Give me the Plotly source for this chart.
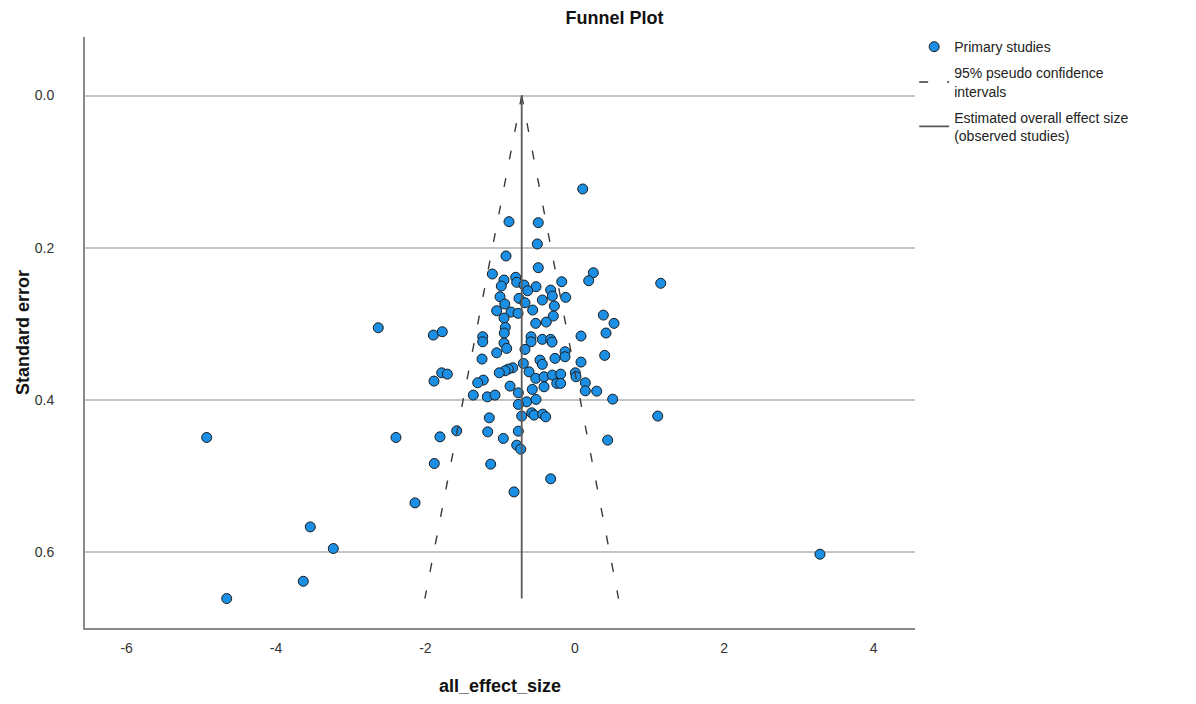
import plotly.graph_objects as go

# Primary studies: effect size and standard error
effect_size = [
    0.106, -0.881, -0.489, -0.502, -0.921, -0.489, 1.150,
    -1.104, 0.248, 0.186, -0.175, -0.948, -0.791, -0.778, -0.984, -0.680, -0.519,
    -0.631, -0.323, -0.301, -0.122, -1.001, -0.747,
    -0.435, -0.938, -0.667, -0.274, -1.046, -0.564, -0.854, -0.760, -0.948, -0.288,
    0.382, -0.523, -0.382, 0.525, -0.930, -2.631,
    -1.894, -1.774, -1.233, -1.233, -0.944, -0.948, -0.586, -0.586, -0.435, -0.323,
    -0.305, 0.083, 0.418, -0.912, -1.046, -0.667, -0.131, -0.131, -0.265, -1.242, 0.400,
    0.083, -0.466, -0.435, -0.689, -0.831, -0.890, -0.934, -1.011, -0.613, -1.782,
    -1.707, -1.885, -1.225, -1.300, -0.523, -0.412, -0.301, -0.189, 0.007, 0.016,
    -0.242, -0.189, 0.141, 0.141, -0.867, -0.569, -0.412, 0.293, -1.359, -1.171,
    -1.068, -0.756,
    0.507, -0.644, -0.519, -0.756, -0.711, -0.577, -0.546, -0.430, -0.390, -1.145,
    1.110, -2.394, -1.805, -1.581, -1.166, -0.957, -0.756, 0.440, -0.778, -0.724,
    -1.881, -1.126, -0.323, -0.814, -2.139, -4.928, -3.541, -3.233, -3.635, -4.660,
    3.282,
]
standard_error = [
    0.1228, 0.1658, 0.1671, 0.1951, 0.2109, 0.2263, 0.2468,
    0.2346, 0.2329, 0.2434, 0.2447, 0.2425, 0.2389, 0.2455, 0.2504, 0.2491, 0.2513,
    0.2566, 0.2557, 0.2636, 0.2653, 0.2645, 0.2666,
    0.2688, 0.2741, 0.2724, 0.2767, 0.2829, 0.2820, 0.2846, 0.2863, 0.2925, 0.2899,
    0.2886, 0.2995, 0.2978, 0.2995, 0.3047, 0.3053,
    0.3149, 0.3105, 0.3171, 0.3237, 0.3122, 0.3254, 0.3171, 0.3237, 0.3205, 0.3205,
    0.3241, 0.3162, 0.3122, 0.3324, 0.3382, 0.3337, 0.3368, 0.3434, 0.3455, 0.3464, 0.3416,
    0.3504, 0.3478, 0.3534, 0.3521, 0.3579, 0.3596, 0.3618, 0.3645, 0.3632, 0.3645,
    0.3662, 0.3754, 0.3741, 0.3776, 0.3718, 0.3697, 0.3675, 0.3662, 0.3645, 0.3697,
    0.3784, 0.3784, 0.3776, 0.3882, 0.3820, 0.3863, 0.3829, 0.3886, 0.3938, 0.3961,
    0.3938, 0.3908,
    0.3991, 0.4026, 0.3995, 0.4061, 0.4214, 0.4171, 0.4201, 0.4188, 0.4224, 0.4237,
    0.4214, 0.4495, 0.4487, 0.4408, 0.4421, 0.4508, 0.4412, 0.4530, 0.4596, 0.4649,
    0.4837, 0.4846, 0.5039, 0.5211, 0.5355, 0.4495, 0.5671, 0.5955, 0.6386, 0.6613,
    0.6030,
]

overall_effect = -0.711
z95 = 1.96
x_ticks = [-6, -4, -2, 0, 2, 4]
y_ticks = [0.0, 0.2, 0.4, 0.6]

se_max = max(standard_error)
se_line = [0.0, se_max]

FONT = "Liberation Sans, Arial, sans-serif"

fig = go.Figure()

fig.add_trace(go.Scatter(
    x=effect_size, y=standard_error, mode="markers",
    name="Primary studies", legendgroup="g1",
    marker=dict(size=10, color="#1a8fe3", line=dict(color="#1b1b1b", width=1)),
))

# 95% pseudo confidence intervals (two dashed lines, one legend entry)
fig.add_trace(go.Scatter(
    x=[overall_effect - z95 * s for s in se_line] + [None] + [overall_effect + z95 * s for s in se_line],
    y=se_line + [None] + se_line,
    mode="lines", legendgroup="g2",
    name="95% pseudo confidence<br>intervals",
    line=dict(color="#3a3a3a", width=1.4, dash="9px,19px"),
))

fig.add_trace(go.Scatter(
    x=[overall_effect, overall_effect], y=se_line, mode="lines", legendgroup="g3",
    name="Estimated overall effect size<br>(observed studies)",
    line=dict(color="#5a5a5a", width=1.8),
))

# page body adds an 8px margin, so the figure is 16px smaller than the window
fig.update_layout(
    width=1180, height=688,
    margin=dict(l=77, r=273, t=29, b=68, autoexpand=False),
    paper_bgcolor="white", plot_bgcolor="white",
    font=dict(family=FONT, color="#222222"),
    title=dict(text="<b>Funnel Plot</b>", x=0.514, xanchor="center", y=0.986, yanchor="middle",
               font=dict(size=18, color="#111111")),
    showlegend=True,
    legend=dict(x=0.999, xanchor="left", y=1.01, yanchor="top",
                font=dict(size=14, color="#222222"), tracegroupgap=5,
                itemwidth=30, bgcolor="rgba(0,0,0,0)"),
    xaxis=dict(
        range=[-6.557, 4.554], tickvals=x_ticks, ticktext=[str(v) for v in x_ticks],
        showgrid=False, zeroline=False, showline=True, linecolor="#8a8a8a", linewidth=2,
        ticks="", tickfont=dict(size=14, color="#333333"), ticklabelstandoff=6,
        title=dict(text="<b>all_effect_size</b>", font=dict(size=18, color="#111111"), standoff=31),
    ),
    yaxis=dict(
        range=[0.70, -0.077], tickvals=y_ticks, ticktext=["0.0", "0.2", "0.4", "0.6"],
        showgrid=True, gridcolor="#c4c4c4", gridwidth=1.5, zeroline=False,
        showline=True, linecolor="#8a8a8a", linewidth=2,
        ticks="", tickfont=dict(size=14, color="#333333"), ticklabelstandoff=26,
        title=dict(text="<b>Standard error</b>", font=dict(size=18, color="#111111"), standoff=0),
    ),
)

fig.write_html("out.html")
